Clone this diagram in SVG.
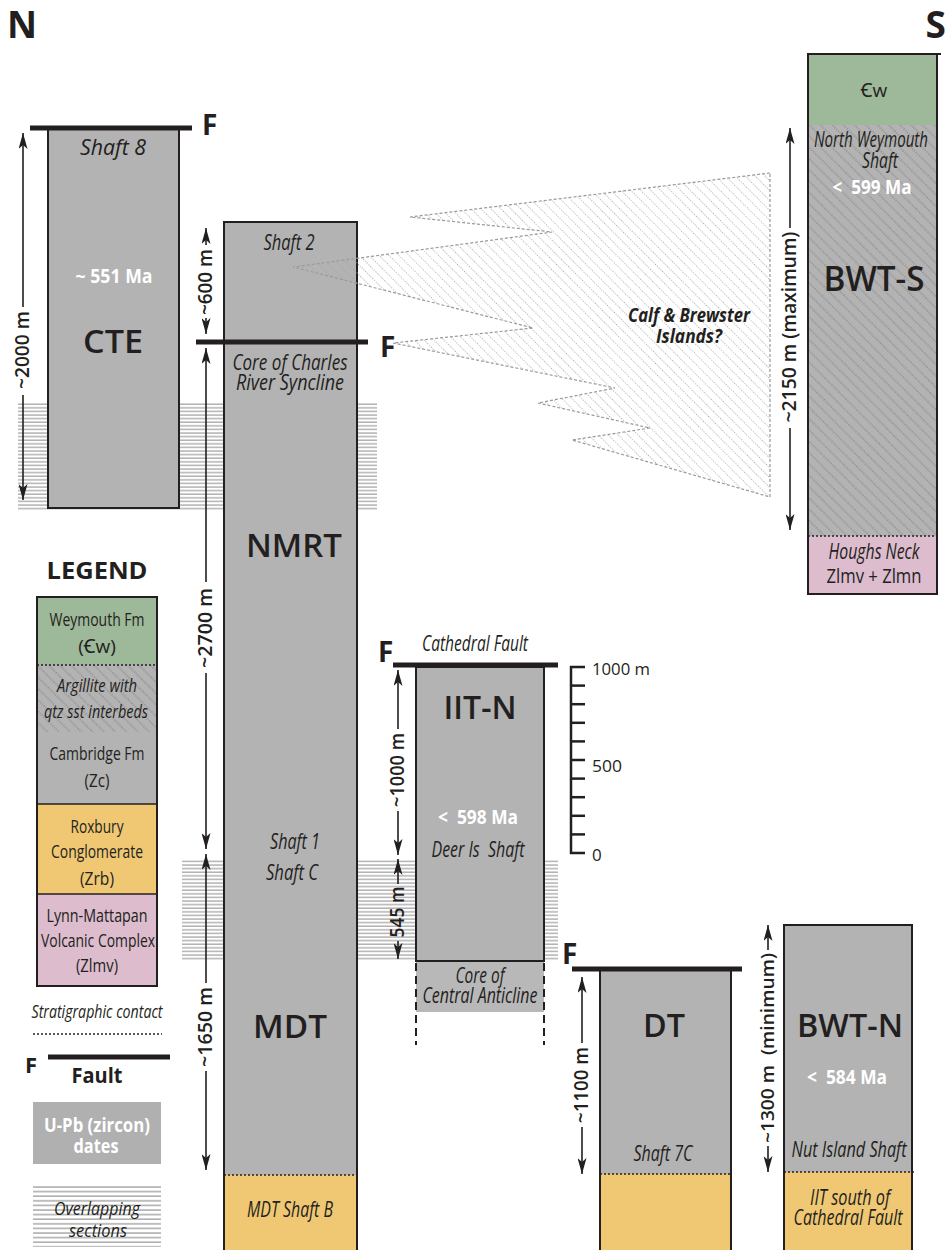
<svg xmlns="http://www.w3.org/2000/svg" width="949" height="1250" viewBox="0 0 949 1250">
<style>
text{font-family:"Open Sans","Noto Sans","DejaVu Sans",sans-serif;fill:#231f20}
.big{font-size:33px;font-weight:600;text-anchor:middle}
.it{font-size:21px;font-style:italic;text-anchor:middle}
.age{font-size:20px;font-weight:700;fill:#fff;text-anchor:middle}
.dim{font-size:19px;font-weight:600;text-anchor:middle}
.F{font-size:28px;font-weight:700}
.leg{font-size:19px;text-anchor:middle}
.legit{font-size:19px;font-style:italic;text-anchor:middle}
.col{fill:#b3b3b3}
.yel{fill:#f0c873}
.pink{fill:#dcbccd}
.green{fill:#9eb89a}
.edge{fill:none;stroke:#231f20;stroke-width:2}
.fault{stroke:#231f20;stroke-width:5}
.contact{stroke:#231f20;stroke-width:1.5;stroke-dasharray:2 2}
.dl{stroke:#231f20;stroke-width:1.6;fill:none}
.arrow{marker-end:url(#ah)}
</style>
<defs>
<marker id="ah" viewBox="0 0 16 9" refX="16" refY="4.5" markerWidth="16" markerHeight="9" markerUnits="userSpaceOnUse" orient="auto">
<path d="M0,0 L16,4.5 L0,9 L4,4.5 Z" fill="#231f20"/>
</marker>
<pattern id="hl" patternUnits="userSpaceOnUse" width="10" height="3.6">
<line x1="0" y1="1" x2="10" y2="1" stroke="#8c8c8c" stroke-width="1"/>
</pattern>
<pattern id="hl2" patternUnits="userSpaceOnUse" width="10" height="4.6" y="1186">
<line x1="0" y1="1" x2="10" y2="1" stroke="#7d7d7d" stroke-width="1"/>
</pattern>
<pattern id="dg" patternUnits="userSpaceOnUse" width="10" height="8" patternTransform="rotate(45)">
<line x1="0" y1="4" x2="10" y2="4" stroke="#666" stroke-width="0.9" stroke-dasharray="1 1.5"/>
</pattern>
<pattern id="dl" patternUnits="userSpaceOnUse" width="10" height="7" patternTransform="rotate(45)">
<line x1="0" y1="3.5" x2="10" y2="3.5" stroke="#a0a0a0" stroke-width="0.9" stroke-dasharray="1 1.5"/>
</pattern>
</defs>
<rect width="949" height="1250" fill="#fff"/>

<g id="overlaps">
<rect x="18" y="403" width="359" height="107" fill="url(#hl)"/>
<rect x="182" y="859" width="376" height="102" fill="url(#hl)"/>
</g>

<g id="compass">
<text x="7" y="38" style="font-size:37px;font-weight:700">N</text>
<text x="946" y="38" style="font-size:37px;font-weight:700;text-anchor:end">S</text>
</g>

<g id="cte">
<rect x="48" y="128" width="131" height="380" class="col"/>
<rect x="48" y="128" width="131" height="380" class="edge"/>
<line x1="30" y1="128" x2="192" y2="128" class="fault"/>
<text x="202" y="135" class="F">F</text>
<text x="113" y="155" class="it" textLength="66" lengthAdjust="spacingAndGlyphs">Shaft 8</text>
<text x="114" y="283" class="age" textLength="77" lengthAdjust="spacingAndGlyphs">~ 551 Ma</text>
<text x="113" y="353" class="big" textLength="60" lengthAdjust="spacingAndGlyphs">CTE</text>
</g>

<g id="shaft2">
<rect x="224" y="222" width="133" height="120" class="col"/>
<rect x="224" y="222" width="133" height="120" class="edge"/>
<text x="289" y="250" class="it" textLength="51" lengthAdjust="spacingAndGlyphs">Shaft 2</text>
</g>

<g id="nmrt-mdt">
<rect x="224" y="342" width="133" height="833" class="col"/>
<rect x="224" y="1175" width="133" height="77" class="yel"/>
<rect x="224" y="342" width="133" height="910" class="edge"/>
<line x1="224" y1="1175" x2="357" y2="1175" class="contact"/>
<line x1="196" y1="342" x2="368" y2="342" class="fault"/>
<text x="380" y="357" class="F">F</text>
<text x="290" y="370" class="it" textLength="115" lengthAdjust="spacingAndGlyphs">Core of Charles</text>
<text x="290" y="390" class="it" textLength="108" lengthAdjust="spacingAndGlyphs">River Syncline</text>
<text x="294" y="557" class="big" textLength="96" lengthAdjust="spacingAndGlyphs">NMRT</text>
<text x="295" y="849" class="it" textLength="50" lengthAdjust="spacingAndGlyphs">Shaft 1</text>
<text x="292" y="880" class="it" textLength="52" lengthAdjust="spacingAndGlyphs">Shaft C</text>
<text x="290" y="1038" class="big" textLength="74" lengthAdjust="spacingAndGlyphs">MDT</text>
<text x="290" y="1217" class="it" textLength="86" lengthAdjust="spacingAndGlyphs">MDT Shaft B</text>
</g>

<g id="iit-n">
<rect x="416" y="961" width="128" height="51" fill="#b8b8b8"/>
<line x1="416" y1="963" x2="416" y2="1045" stroke="#231f20" stroke-width="2" stroke-dasharray="8 5"/>
<line x1="544" y1="963" x2="544" y2="1045" stroke="#231f20" stroke-width="2" stroke-dasharray="8 5"/>
<rect x="416" y="667" width="128" height="294" class="col"/>
<rect x="416" y="667" width="128" height="294" class="edge"/>
<line x1="393" y1="665" x2="558" y2="665" class="fault"/>
<text x="378" y="662" class="F">F</text>
<text x="475" y="651" class="it" textLength="106" lengthAdjust="spacingAndGlyphs">Cathedral Fault</text>
<text x="480" y="719" class="big" textLength="73" lengthAdjust="spacingAndGlyphs">IIT-N</text>
<text x="478" y="824" class="age" textLength="80" lengthAdjust="spacingAndGlyphs">&lt;&#160; 598 Ma</text>
<text x="478" y="857" class="it" textLength="93" lengthAdjust="spacingAndGlyphs">Deer Is&#160; Shaft</text>
<text x="480" y="983" class="it" textLength="49" lengthAdjust="spacingAndGlyphs">Core of</text>
<text x="480" y="1003" class="it" textLength="115" lengthAdjust="spacingAndGlyphs">Central Anticline</text>
</g>

<g id="scale">
<line x1="571" y1="666" x2="571" y2="854" stroke="#231f20" stroke-width="2.5"/>
<g stroke="#231f20" stroke-width="2.5">
<line x1="570" y1="667" x2="585" y2="667"/>
<line x1="571" y1="685.6" x2="585" y2="685.6"/>
<line x1="571" y1="704.2" x2="585" y2="704.2"/>
<line x1="571" y1="722.8" x2="585" y2="722.8"/>
<line x1="571" y1="741.4" x2="585" y2="741.4"/>
<line x1="571" y1="760" x2="585" y2="760"/>
<line x1="571" y1="778.6" x2="585" y2="778.6"/>
<line x1="571" y1="797.2" x2="585" y2="797.2"/>
<line x1="571" y1="815.8" x2="585" y2="815.8"/>
<line x1="571" y1="834.4" x2="585" y2="834.4"/>
<line x1="570" y1="853" x2="585" y2="853"/>
</g>
<text x="592" y="675" style="font-size:17px" textLength="58" lengthAdjust="spacingAndGlyphs">1000 m</text>
<text x="592" y="772" style="font-size:17px" textLength="30" lengthAdjust="spacingAndGlyphs">500</text>
<text x="592" y="861" style="font-size:17px">0</text>
</g>

<g id="dt">
<rect x="600" y="969" width="131" height="205" class="col"/>
<rect x="600" y="1174" width="131" height="78" class="yel"/>
<rect x="600" y="969" width="131" height="283" class="edge"/>
<line x1="600" y1="1174" x2="731" y2="1174" class="contact"/>
<line x1="572" y1="969" x2="742" y2="969" class="fault"/>
<text x="562" y="964" class="F">F</text>
<text x="664" y="1037" class="big" textLength="42" lengthAdjust="spacingAndGlyphs">DT</text>
<text x="663" y="1161" class="it" textLength="59" lengthAdjust="spacingAndGlyphs">Shaft 7C</text>
</g>

<g id="bwt-n">
<rect x="784" y="925" width="128" height="247" class="col"/>
<rect x="784" y="1172" width="128" height="80" class="yel"/>
<rect x="784" y="925" width="128" height="327" class="edge"/>
<line x1="784" y1="1172" x2="916" y2="1172" class="contact"/>
<text x="850" y="1037" class="big" textLength="106" lengthAdjust="spacingAndGlyphs">BWT-N</text>
<text x="847" y="1084" class="age" textLength="80" lengthAdjust="spacingAndGlyphs">&lt;&#160; 584 Ma</text>
<text x="849" y="1157" class="it" textLength="115" lengthAdjust="spacingAndGlyphs">Nut Island Shaft</text>
<text x="850" y="1205" class="it" textLength="80" lengthAdjust="spacingAndGlyphs">IIT south of</text>
<text x="848" y="1225" class="it" textLength="109" lengthAdjust="spacingAndGlyphs">Cathedral Fault</text>
</g>

<g id="bwt-s">
<rect x="808" y="54" width="129" height="71" class="green"/>
<rect x="808" y="125" width="129" height="411" class="col"/>
<rect x="808" y="125" width="129" height="411" fill="url(#dg)"/>
<rect x="808" y="536" width="129" height="58" class="pink"/>
<rect x="808" y="54" width="129" height="540" class="edge"/>
<line x1="807" y1="54" x2="941" y2="54" stroke="#231f20" stroke-width="2"/>
<line x1="808" y1="536" x2="937" y2="536" class="contact"/>
<text x="874" y="97" style="font-size:19px;text-anchor:middle">Ꞓw</text>
<text x="871" y="147" class="it" textLength="114" lengthAdjust="spacingAndGlyphs">North Weymouth</text>
<text x="880" y="168" class="it" textLength="36" lengthAdjust="spacingAndGlyphs">Shaft</text>
<text x="872" y="194" class="age" textLength="79" lengthAdjust="spacingAndGlyphs">&lt;&#160; 599 Ma</text>
<text x="874" y="291" class="big" style="font-size:35px" textLength="101" lengthAdjust="spacingAndGlyphs">BWT-S</text>
<text x="874" y="559" class="it" textLength="91" lengthAdjust="spacingAndGlyphs">Houghs Neck</text>
<text x="874" y="583" style="font-size:20px;text-anchor:middle" textLength="95" lengthAdjust="spacingAndGlyphs">Zlmv + Zlmn</text>
</g>

<g id="calf-brewster">
<polygon points="770,173 410,217 552,232 293,267 533,328 393,343 615,388 538,403 650,428 572,440 770,497" fill="url(#dl)" stroke="#9a9a9a" stroke-width="1.2" stroke-dasharray="3 2"/>
<text x="689" y="322" style="font-size:20px;font-weight:700;font-style:italic;text-anchor:middle" textLength="122" lengthAdjust="spacingAndGlyphs">Calf &amp; Brewster</text>
<text x="689" y="343" style="font-size:20px;font-weight:700;font-style:italic;text-anchor:middle" textLength="66" lengthAdjust="spacingAndGlyphs">Islands?</text>
</g>

<g id="connectors">
<line x1="23" y1="307" x2="23" y2="133" class="dl arrow"/>
<line x1="23" y1="395" x2="23" y2="500" class="dl arrow"/>
<text transform="translate(29,350) rotate(-90)" class="dim" textLength="78" lengthAdjust="spacingAndGlyphs">~2000 m</text>

<line x1="206" y1="245" x2="206" y2="228" class="dl arrow"/>
<line x1="206" y1="318" x2="206" y2="334" class="dl arrow"/>
<text transform="translate(212,282) rotate(-90)" class="dim" textLength="66" lengthAdjust="spacingAndGlyphs">~600 m</text>

<line x1="206" y1="582" x2="206" y2="348" class="dl arrow"/>
<line x1="206" y1="673" x2="206" y2="849" class="dl arrow"/>
<text transform="translate(212,628) rotate(-90)" class="dim" textLength="80" lengthAdjust="spacingAndGlyphs">~2700 m</text>

<line x1="206" y1="983" x2="206" y2="854" class="dl arrow"/>
<line x1="206" y1="1071" x2="206" y2="1170" class="dl arrow"/>
<text transform="translate(212,1027) rotate(-90)" class="dim" textLength="80" lengthAdjust="spacingAndGlyphs">~1650 m</text>

<line x1="398" y1="729" x2="398" y2="670" class="dl arrow"/>
<line x1="398" y1="811" x2="398" y2="855" class="dl arrow"/>
<text transform="translate(404,770) rotate(-90)" class="dim" textLength="74" lengthAdjust="spacingAndGlyphs">~1000 m</text>

<line x1="398" y1="884" x2="398" y2="859" class="dl arrow"/>
<line x1="398" y1="941" x2="398" y2="959" class="dl arrow"/>
<text transform="translate(404,912) rotate(-90)" class="dim" textLength="51" lengthAdjust="spacingAndGlyphs">545 m</text>

<line x1="582" y1="1043" x2="582" y2="977" class="dl arrow"/>
<line x1="582" y1="1127" x2="582" y2="1174" class="dl arrow"/>
<text transform="translate(588,1085) rotate(-90)" class="dim" textLength="76" lengthAdjust="spacingAndGlyphs">~1100 m</text>

<line x1="768" y1="950" x2="768" y2="925" class="dl arrow"/>
<line x1="768" y1="1146" x2="768" y2="1172" class="dl arrow"/>
<text transform="translate(774,1048) rotate(-90)" class="dim" style="font-size:18px" textLength="190" lengthAdjust="spacingAndGlyphs">~1300 m&#160; (minimum)</text>

<line x1="790" y1="228" x2="790" y2="128" class="dl arrow"/>
<line x1="790" y1="428" x2="790" y2="530" class="dl arrow"/>
<text transform="translate(796,327) rotate(-90)" class="dim" textLength="191" lengthAdjust="spacingAndGlyphs">~2150 m (maximum)</text>
</g>

<g id="legend">
<text x="97" y="579" style="font-size:24px;font-weight:700;text-anchor:middle" textLength="101" lengthAdjust="spacingAndGlyphs">LEGEND</text>
<rect x="37" y="597" width="120" height="68" class="green"/>
<rect x="37" y="665" width="120" height="139" class="col"/>
<rect x="37" y="665" width="120" height="67" fill="url(#dg)"/>
<rect x="37" y="804" width="120" height="90" class="yel"/>
<rect x="37" y="894" width="120" height="92" class="pink"/>
<line x1="37" y1="665" x2="157" y2="665" class="contact"/>
<line x1="37" y1="804" x2="157" y2="804" stroke="#231f20" stroke-width="1.5"/>
<line x1="37" y1="894" x2="157" y2="894" stroke="#231f20" stroke-width="1.5"/>
<rect x="37" y="597" width="120" height="389" class="edge"/>
<text x="97" y="626" class="leg" textLength="95" lengthAdjust="spacingAndGlyphs">Weymouth Fm</text>
<text x="97" y="653" class="leg">(Ꞓw)</text>
<text x="97" y="692" class="legit" textLength="80" lengthAdjust="spacingAndGlyphs">Argillite with</text>
<text x="96" y="718" class="legit" textLength="104" lengthAdjust="spacingAndGlyphs">qtz sst interbeds</text>
<text x="97" y="760" class="leg" textLength="95" lengthAdjust="spacingAndGlyphs">Cambridge Fm</text>
<text x="97" y="787" class="leg" textLength="25" lengthAdjust="spacingAndGlyphs">(Zc)</text>
<text x="97" y="833" class="leg" textLength="53" lengthAdjust="spacingAndGlyphs">Roxbury</text>
<text x="97" y="858" class="leg" textLength="92" lengthAdjust="spacingAndGlyphs">Conglomerate</text>
<text x="97" y="885" class="leg" textLength="34" lengthAdjust="spacingAndGlyphs">(Zrb)</text>
<text x="97" y="922" class="leg" textLength="101" lengthAdjust="spacingAndGlyphs">Lynn-Mattapan</text>
<text x="98" y="947" class="leg" textLength="114" lengthAdjust="spacingAndGlyphs">Volcanic Complex</text>
<text x="97" y="972" class="leg" textLength="42" lengthAdjust="spacingAndGlyphs">(Zlmv)</text>
<text x="97" y="1018" class="legit" textLength="131" lengthAdjust="spacingAndGlyphs">Stratigraphic contact</text>
<line x1="33" y1="1034" x2="162" y2="1034" class="contact"/>
<line x1="48" y1="1057" x2="170" y2="1057" class="fault"/>
<text x="25" y="1073" style="font-size:22px;font-weight:700">F</text>
<text x="97" y="1083" style="font-size:21px;font-weight:700;text-anchor:middle" textLength="51" lengthAdjust="spacingAndGlyphs">Fault</text>
<rect x="33" y="1102" width="128" height="62" fill="#b0b0b0"/>
<text x="97" y="1132" class="age" style="font-size:19px" textLength="106" lengthAdjust="spacingAndGlyphs">U-Pb (zircon)</text>
<text x="96" y="1153" class="age" style="font-size:19px" textLength="45" lengthAdjust="spacingAndGlyphs">dates</text>
<rect x="33" y="1186" width="128" height="61" fill="url(#hl2)"/>
<text x="97" y="1215" class="legit" textLength="86" lengthAdjust="spacingAndGlyphs">Overlapping</text>
<text x="98" y="1237" class="legit" textLength="58" lengthAdjust="spacingAndGlyphs">sections</text>
</g>
</svg>
